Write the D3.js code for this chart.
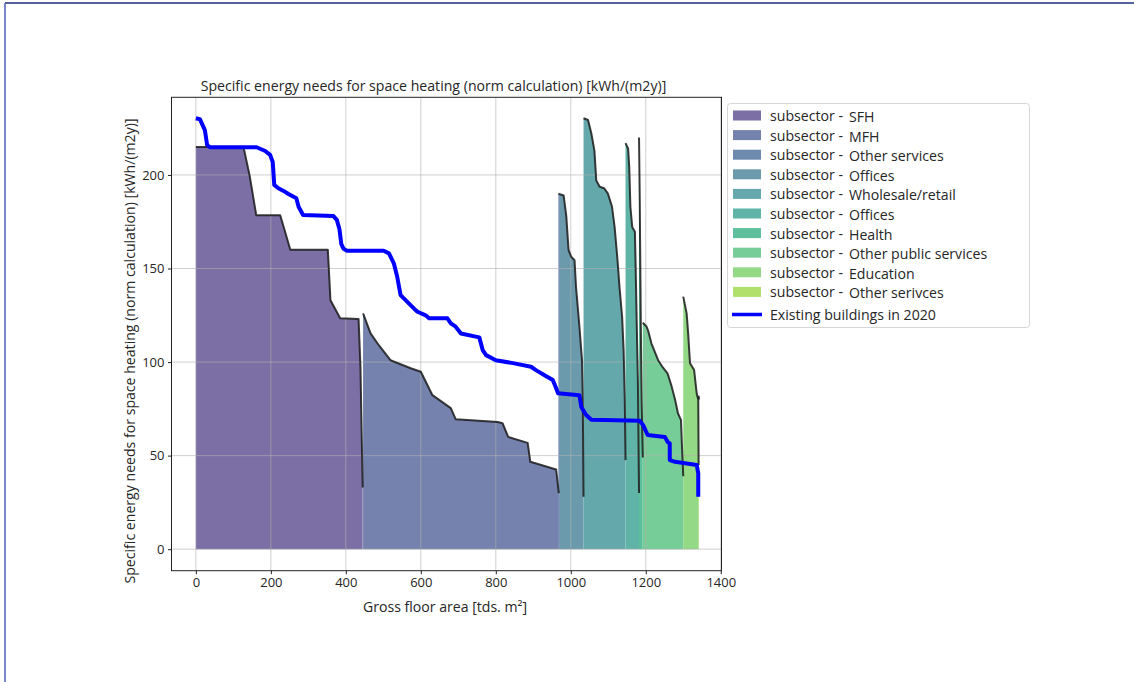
<!DOCTYPE html>
<html>
<head>
<meta charset="utf-8">
<script src="https://cdn.jsdelivr.net/npm/d3@7/dist/d3.min.js"></script>
<style>
  html, body { margin: 0; padding: 0; background: #ffffff; }
  svg { display: block; }
  text { font-family: "Open Sans", "Noto Sans", sans-serif; fill: #262626; }
</style>
</head>
<body>
<svg id="chart" width="1134" height="682"></svg>
<script>
// ---- data: gross floor area [tds. m²] vs specific energy need [kWh/(m2y)] ----
const categories = ["SFH", "MFH", "Other services", "Offices", "Wholesale/retail",
                    "Offices", "Health", "Other public services", "Education", "Other serivces"];

const sfh = [[0,215],[127,215],[144,199],[161,178.5],[225,178.5],[252,160],[352,160],
             [359,133],[385,123.4],[434,123],[439,97.5],[445,33]];
const mfh = [[446,126],[466,115.3],[488,109],[519,101],[573,96.7],[600,94.8],[631,82.3],
             [680,75.4],[693,69.5],[805,68],[818,67.3],[833,60],[885,56.8],[892,46.7],
             [961,42.6],[968,30]];
const otherServices = [[967,190],[971,189.7]];
const offices = [[971,189.7],[981,189],[988,178],[994,160],[1001,156.3],[1010,154.5],
                 [1014,140],[1023,119],[1028,106],[1030,101],[1032,80],[1034,28]];
const wholesaleRetail = [[1034,230.3],[1046,229.4],[1055,222],[1063,213],[1068,197],
                         [1077,193.7],[1089,192.9],[1099,190],[1110,183],[1117,172],
                         [1124,156],[1130,140],[1137,124],[1141,106],[1144,80],[1146,47.6]];
const offices2 = [[1146,217],[1153,214],[1156,204],[1159,183],[1164,172],[1171,169.7],
                  [1173,151],[1176,120],[1179,90],[1182,30]];
const health = [[1182,220],[1184,186],[1187,115],[1189,80],[1192,49]];
const otherPublic = [[1192,121],[1202,119],[1206,117],[1215,110],[1233,101],[1246,97],
                     [1258,94],[1269,87],[1278,80],[1286,72.5],[1294,69],[1296,58],[1300,39]];
const education = [[1300,135],[1309,126],[1313,115.5],[1318,99.4],[1329,95.7],[1336,83],
                   [1340,80],[1341,45]];
const otherSerivces = [[1341,82],[1342,80]];

const seriesValues = [sfh, mfh, otherServices, offices, wholesaleRetail,
                      offices2, health, otherPublic, education, otherSerivces];

const existing2020 = [[0,230.3],[10.7,229.8],[24,224],[30,216],[37.5,214.8],[162,214.8],
  [185,212.8],[198,210.7],[205,207],[209,194.7],[220,192.9],[238,191],[247,189.8],
  [268,187.5],[274,183],[286,178.6],[367,178],[376,176],[383,171],[388,163],[394,160.5],
  [403,159.5],[501,159.5],[515,158.1],[528,152.8],[537,145.6],[546,135.8],[568,131.4],
  [586,127.8],[591,126.9],[613,125],[622,123.4],[671,123.4],[680,120.7],[693,118.9],
  [707,115.3],[756,113.2],[765,106.4],[774,103.7],[800,101],[849,99.3],[894,97.5],
  [907,95.7],[930,93],[952,90.4],[961,86],[966,83.3],[1023,82.3],[1028,76],[1041,71.7],
  [1055,69.2],[1184,68.6],[1193,66.3],[1205,61],[1251,60],[1258,57.4],[1264,56.5],
  [1264,47.6],[1278,46.7],[1336,45],[1340,40.5],[1340,28]];

const xTicks = [0, 200, 400, 600, 800, 1000, 1200, 1400];
const yTicks = [0, 50, 100, 150, 200];

const fillColors = ["#7b6fa5", "#7482ad", "#6e8aae", "#6a9aab", "#65a8ac",
                    "#5fb3a7", "#5ebf9c", "#77cd97", "#93d986", "#b1e06c"];

// ---- layout ----
const svg = d3.select("#chart");
const x = d3.scaleLinear().domain([-65, 1402]).range([171.5, 721.5]);
const y = d3.scaleLinear().domain([-11.5, 241.5]).range([570.7, 97.3]);
const [x0, x1] = x.range();
const [yb, yt] = y.range();

// page frame lines
svg.append("line").attr("x1", 5).attr("x2", 1134).attr("y1", 3).attr("y2", 3)
  .attr("stroke", "#1e2d7a").attr("stroke-width", 1.5);
svg.append("line").attr("x1", 5).attr("x2", 5).attr("y1", 3).attr("y2", 682)
  .attr("stroke", "#4b63b5").attr("stroke-width", 1.5);

const plot = svg.append("g");
plot.append("defs").append("clipPath").attr("id", "clip")
  .append("rect").attr("x", x0).attr("y", yt).attr("width", x1 - x0).attr("height", yb - yt);

// filled areas under each subsector curve
const area = d3.area().x(d => x(d[0])).y0(y(0)).y1(d => y(d[1]));
const line = d3.line().x(d => x(d[0])).y(d => y(d[1]));

const g = plot.append("g").attr("clip-path", "url(#clip)");
seriesValues.forEach((s, i) => {
  g.append("path").attr("d", area(s)).attr("fill", fillColors[i]);
});

// grid
const grid = g.append("g").attr("stroke", "#b0b0b0").attr("stroke-opacity", 0.6).attr("stroke-width", 1);
xTicks.forEach(t => grid.append("line").attr("x1", x(t)).attr("x2", x(t)).attr("y1", yt).attr("y2", yb));
yTicks.forEach(t => grid.append("line").attr("x1", x0).attr("x2", x1).attr("y1", y(t)).attr("y2", y(t)));

// curve outlines
seriesValues.forEach(s => {
  g.append("path").attr("d", line(s)).attr("fill", "none")
    .attr("stroke", "#1a1a1a").attr("stroke-opacity", 0.85).attr("stroke-width", 2)
    .attr("stroke-linejoin", "round");
});

// existing building stock 2020
g.append("path").attr("d", line(existing2020)).attr("fill", "none")
  .attr("stroke", "#0000ff").attr("stroke-width", 4).attr("stroke-linejoin", "round");

// axes
const xAxis = d3.axisBottom(x).tickValues(xTicks).tickSize(3.5).tickPadding(3.5).tickFormat(d3.format("d"));
const yAxis = d3.axisLeft(y).tickValues(yTicks).tickSize(3.5).tickPadding(3.5).tickFormat(d3.format("d"));
const gx = svg.append("g").attr("transform", `translate(0,${yb})`).call(xAxis);
const gy = svg.append("g").attr("transform", `translate(${x0},0)`).call(yAxis);
[gx, gy].forEach(a => {
  a.select(".domain").remove();
  a.selectAll("line").attr("stroke", "#222");
  a.selectAll("text").style("font-family", "'Open Sans', sans-serif").style("font-size", "13px").attr("fill", "#262626");
});

// frame
svg.append("rect").attr("x", x0).attr("y", yt).attr("width", x1 - x0).attr("height", yb - yt)
  .attr("fill", "none").attr("stroke", "#222").attr("stroke-width", 1);

// text fitted to a target width
function fitText(sel, width, base) {
  sel.style("font-size", base + "px");
  const w = sel.node().getComputedTextLength();
  const size = base * width / w;
  sel.style("font-size", size.toFixed(2) + "px");
  return size;
}

const title = svg.append("text").attr("x", 433.5).attr("y", 85).attr("text-anchor", "middle")
  .attr("dominant-baseline", "central")
  .text("Specific energy needs for space heating (norm calculation) [kWh/(m2y)]");
fitText(title, 466, 13);

const ylab = svg.append("text").attr("transform", "translate(129,351) rotate(-90)")
  .attr("text-anchor", "middle").attr("dominant-baseline", "central")
  .text("Specific energy needs for space heating (norm calculation) [kWh/(m2y)]");
fitText(ylab, 465, 13);

const xlab = svg.append("text").attr("x", 445).attr("y", 606).attr("text-anchor", "middle")
  .attr("dominant-baseline", "central").text("Gross floor area [tds. m²]");
fitText(xlab, 164, 12.5);

// legend
const lg = svg.append("g");
lg.append("rect").attr("x", 727.5).attr("y", 103.5).attr("width", 302).attr("height", 224)
  .attr("rx", 3).attr("fill", "#ffffff").attr("fill-opacity", 0.8)
  .attr("stroke", "#d6d6d6").attr("stroke-width", 1);
const lgLast = lg.append("text").attr("x", 770).attr("y", 314.5).attr("dominant-baseline", "central")
  .text("Existing buildings in 2020");
const lgSize = fitText(lgLast, 166, 12.5);
lg.append("line").attr("x1", 732).attr("x2", 762).attr("y1", 314.5).attr("y2", 314.5)
  .attr("stroke", "#0000ff").attr("stroke-width", 3.5);
categories.forEach((c, i) => {
  const cy = 115.5 + i * 19.6;
  lg.append("rect").attr("x", 733).attr("y", cy - 5).attr("width", 28).attr("height", 10)
    .attr("fill", fillColors[i]);
  lg.append("text").attr("x", 770).attr("y", cy).attr("dominant-baseline", "central")
    .style("font-size", lgSize.toFixed(2) + "px").text("subsector -");
  lg.append("text").attr("x", 849).attr("y", cy + 1).attr("dominant-baseline", "central")
    .style("font-size", lgSize.toFixed(2) + "px").text(c);
});
</script>
</body>
</html>
